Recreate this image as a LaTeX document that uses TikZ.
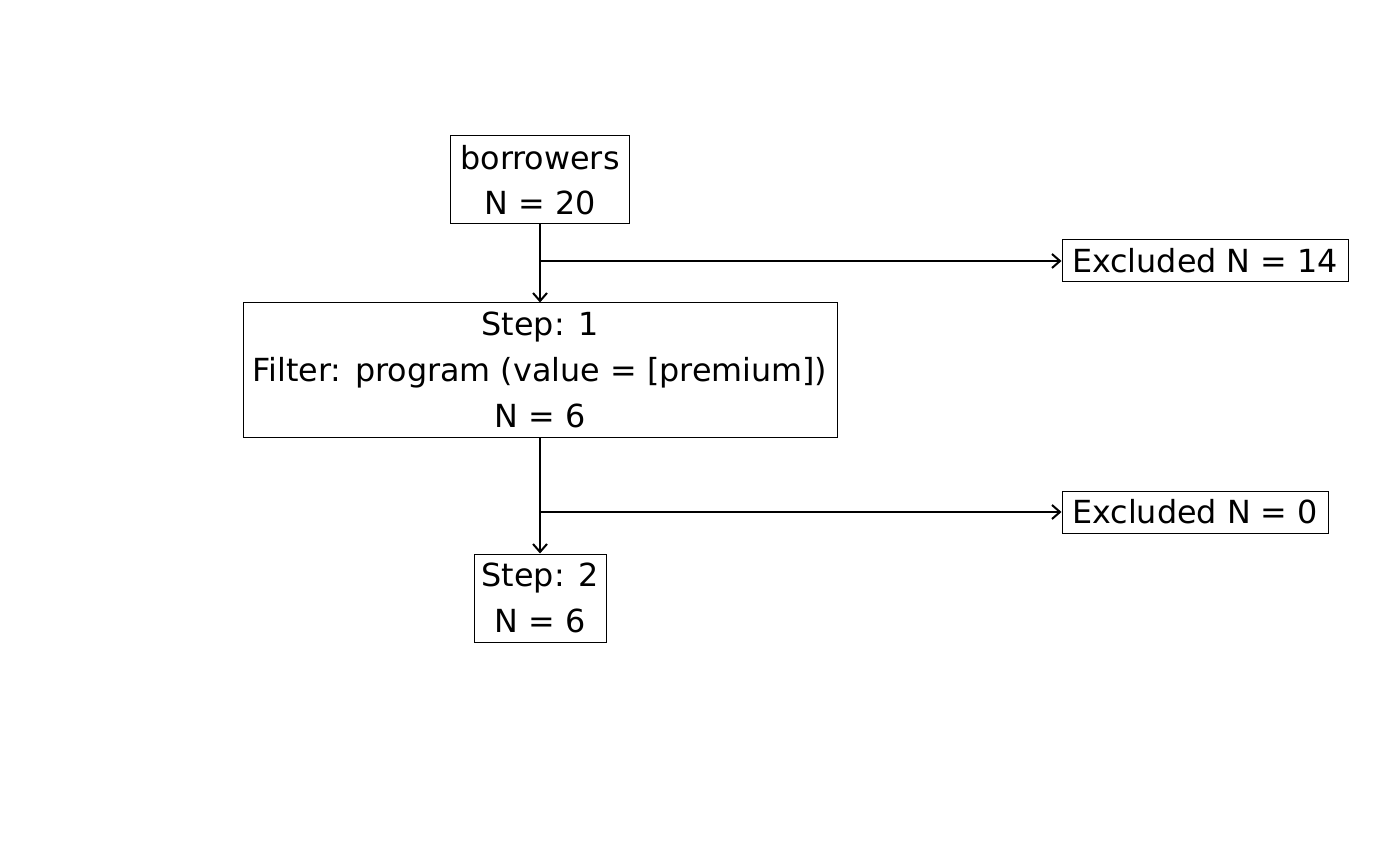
\documentclass[tikz,border=0pt]{standalone}
\usepackage{fontspec}
\setmainfont{DejaVu Sans}
\usetikzlibrary{arrows.meta}
\begin{document}
\begin{tikzpicture}[x=0.5pt,y=-0.5pt,
  box/.style={draw,line width=0.5pt,inner sep=0pt,align=center,
    font=\fontsize{15.9}{22.8}\selectfont},
  conn/.style={line width=1pt},
  arr/.style={conn,-{Straight Barb[length=4pt,width=7pt,line width=1pt]}}]
\useasboundingbox (0,0) rectangle (1400,865);
\node[box,minimum width=89.5pt,minimum height=44pt] (start) at (540,180) {borrowers\\N = 20};
\node[box,minimum width=297pt,minimum height=67pt] (s1) at (540,370) {Step: 1\\Filter: program (value = [premium])\\N = 6};
\node[box,minimum width=66pt,minimum height=44pt] (s2) at (540,598) {Step: 2\\N = 6};
\node[box,minimum width=143pt,minimum height=21pt] (ex1) at (1205,261) {Excluded N = 14};
\node[box,minimum width=133pt,minimum height=21pt] (ex2) at (1195,512) {Excluded N = 0};
\coordinate (b1) at (540,261);
\coordinate (b2) at (540,512);
\draw[arr] (start.south) -- (s1.north);
\draw[arr] (b1) -- (ex1.west);
\draw[arr] (s1.south) -- (s2.north);
\draw[arr] (b2) -- (ex2.west);
\end{tikzpicture}
\end{document}
